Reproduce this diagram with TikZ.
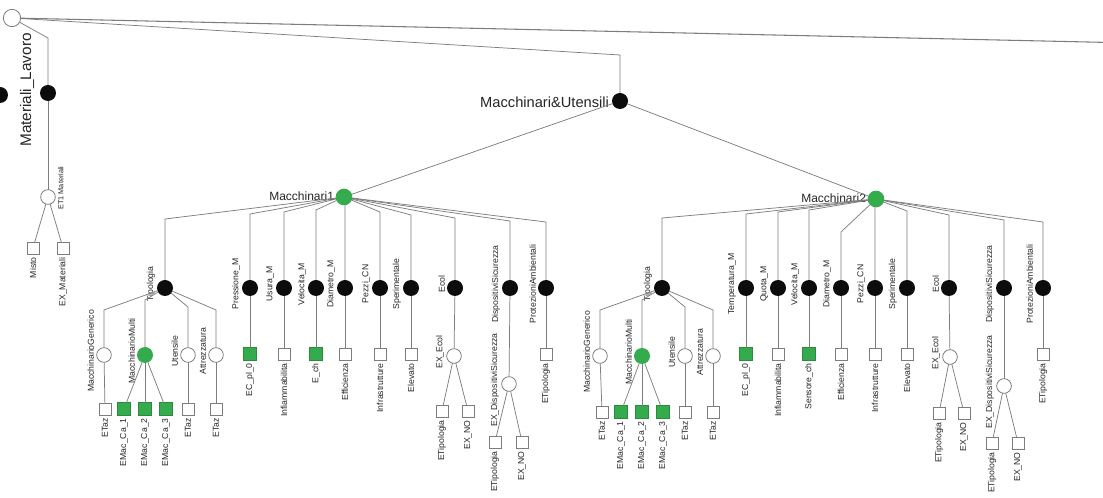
\documentclass[tikz,border=0pt]{standalone}
\usepackage{fontspec}
\setmainfont{Liberation Sans}
\definecolor{leafgreen}{RGB}{52,172,78}
\definecolor{edgegray}{RGB}{125,125,125}
\definecolor{nodeblack}{RGB}{12,12,12}
% label helpers: text rotated, left of a node / hanging below a node
\newcommand\nlab[2]{\node[leftlab] (#1-lab) at ([xshift=-7.5pt,yshift=3pt]#1.center) {#2};}
\newcommand\dlab[2]{\node[downlab] (#1-lab) at ([yshift=-7pt]#1.center) {#2};}
\begin{document}
\begin{tikzpicture}[x=0.75pt,y=-0.75pt,
  every node/.style={inner sep=0pt,outer sep=0pt},
  solid/.style={circle,fill=nodeblack,minimum size=12pt},
  hub/.style={circle,fill=leafgreen,minimum size=12.5pt},
  opencirc/.style={circle,draw=edgegray,fill=white,line width=0.6pt,minimum size=11pt},
  greencirc/.style={circle,fill=leafgreen,minimum size=12pt},
  leaf/.style={rectangle,draw=edgegray,fill=white,line width=0.6pt,minimum size=9pt},
  gleaf/.style={rectangle,draw=leafgreen!80!black,fill=leafgreen,line width=0.5pt,minimum size=9.5pt},
  link/.style={draw=edgegray,line width=0.55pt},
  vlab/.style={font=\fontsize{6.5}{7}\selectfont,rotate=90,text=black!85},
  leftlab/.style={vlab,anchor=south},
  downlab/.style={vlab,anchor=east},
]
\fill[white] (0,0) rectangle (1103,498);
\useasboundingbox (0,0) rectangle (1103,498);

% ---------- top level ----------
\node[opencirc,minimum size=13pt] (root) at (12,18) {};
\node[solid] (edgedot) at (0,95) {};
\coordinate (farright) at (1110,42.5);
\coordinate (mj) at (48,38);
\coordinate (uj) at (620,55);
\draw[link,line width=0.8pt] (root) -- (farright);

% Materiali branch
\node[solid] (mat) at (48,93) {};
\node[font=\fontsize{11.5}{12}\selectfont,rotate=90,text=black!85] (mat-lab) at (27,90) {Materiali\_Lavoro};
\node[opencirc] (matc) at (48,197) {};
\node[vlab,font=\fontsize{5.5}{6}\selectfont,anchor=north] (matc-lab) at (58,188) {ET1 Materiali};
\node[leaf] (mats1) at (33,248) {};
\node[leaf] (mats2) at (63,248) {};
\draw[link] (root) -- (mj) -- (mat);
\draw[link] (mat) -- (matc);
\draw[link] (matc) -- (mats1);
\draw[link] (matc) -- (mats2);
\dlab{mats1}{Misto}
\dlab{mats2}{EX\_Materiali}

% Macchinari & Utensili
\node[solid] (mu) at (620,101) {};
\node[font=\fontsize{11}{12}\selectfont,anchor=east,text=black!85] (mu-lab) at (609,102) {Macchinari\&Utensili};
\draw[link] (root) -- (uj) -- (mu);

\node[hub] (m1) at (344,197) {};
\node[font=\fontsize{9}{10}\selectfont,anchor=east,text=black!85] (m1-lab) at (334,196) {Macchinari1};
\node[hub] (m2) at (876,199) {};
\node[font=\fontsize{9}{10}\selectfont,anchor=east,text=black!85] (m2-lab) at (866,198) {Macchinari2};
\draw[link] (mu) -- (m1);
\draw[link] (mu) -- (m2);

% ---------- Macchinari1 ----------
\foreach \n/\x/\e/\t in {a/165/219/Tipologia, b/250/214/Pressione\_M, c/284/212/Usura\_M,
    d/316/210/Velocita\_M, e/345/206/Diametro\_M, f/380/212/Pezzi\_CN, g/411/215/Sperimentale,
    h/455/218/Ecol, i/510/221/DispositiviSicurezza, j/546/222/ProtezioniAmbientali}{
  \node[solid] (A\n) at (\x,288) {};
  \draw[link] (m1) -- (\x,\e) -- (A\n);
  \nlab{A\n}{\t}
}
\foreach \n/\x/\s/\t in {b/250/gleaf/EC\_pl\_0, c/284/leaf/Infiammabilita, d/316/gleaf/E\_ch,
    e/345/leaf/Efficienza, f/380/leaf/Infrastrutture, g/411/leaf/Elevato, j/546/leaf/ETipologia}{
  \node[\s] (A\n-l) at (\x,354) {};
  \draw[link] (A\n) -- (A\n-l);
  \dlab{A\n-l}{\t}
}
% Ecol
\node[opencirc] (Ah-c) at (454,356) {};
\draw[link] (Ah) -- (Ah-c);
\nlab{Ah-c}{EX\_Ecol}
\node[leaf] (Ah-1) at (442,411) {};
\node[leaf] (Ah-2) at (468,411) {};
\draw[link] (Ah-c) -- (Ah-1);
\draw[link] (Ah-c) -- (Ah-2);
\dlab{Ah-1}{ETipologia}
\dlab{Ah-2}{EX\_NO}
% DispositiviSicurezza
\node[opencirc] (Ai-c) at (509,384) {};
\draw[link] (Ai) -- (Ai-c);
\nlab{Ai-c}{EX\_DispositiviSicurezza}
\node[leaf] (Ai-1) at (495,442) {};
\node[leaf] (Ai-2) at (522,442) {};
\draw[link] (Ai-c) -- (Ai-1);
\draw[link] (Ai-c) -- (Ai-2);
\dlab{Ai-1}{ETipologia}
\dlab{Ai-2}{EX\_NO}
% Tipologia
\foreach \n/\x/\e/\s/\t in {p/104/310/opencirc/MacchinarioGenerico, q/145/300/greencirc/MacchinarioMulti,
    r/188/307/opencirc/Utensile, s/216/310/opencirc/Attrezzatura}{
  \node[\s] (A\n) at (\x,355) {};
  \draw[link] (Aa) -- (\x,\e) -- (A\n);
  \nlab{A\n}{\t}
}
\foreach \n/\p/\x/\s/\t in {p1/p/105/leaf/ETaz, q1/q/124/gleaf/EMac\_Ca\_1, q2/q/145/gleaf/EMac\_Ca\_2,
    q3/q/166/gleaf/EMac\_Ca\_3, r1/r/188/leaf/ETaz, s1/s/216/leaf/ETaz}{
  \node[\s] (A\n) at (\x,409) {};
  \draw[link] (A\p) -- (A\n);
  \dlab{A\n}{\t}
}

% ---------- Macchinari2 ----------
\foreach \n/\x/\e/\t in {a/662/218/Tipologia, b/746/214/Temperatura\_M, c/778/212/Quota\_M,
    d/809/210/Velocita\_M, e/841/232/Diametro\_M, f/875/207/Pezzi\_CN, g/907/211/Sperimentale,
    h/949/215/Ecol, i/1004/220/DispositiviSicurezza, j/1043/222/ProtezioniAmbientali}{
  \node[solid] (B\n) at (\x,288) {};
  \draw[link] (m2) -- (\x,\e) -- (B\n);
  \nlab{B\n}{\t}
}
\foreach \n/\x/\s/\t in {b/746/gleaf/EC\_pl\_0, c/778/leaf/Infiammabilita, d/809/gleaf/Sensore\_ch,
    e/841/leaf/Efficienza, f/875/leaf/Infrastrutture, g/907/leaf/Elevato, j/1043/leaf/ETipologia}{
  \node[\s] (B\n-l) at (\x,354) {};
  \draw[link] (B\n) -- (B\n-l);
  \dlab{B\n-l}{\t}
}
% Ecol
\node[opencirc] (Bh-c) at (950,357) {};
\draw[link] (Bh) -- (Bh-c);
\nlab{Bh-c}{EX\_Ecol}
\node[leaf] (Bh-1) at (939,413) {};
\node[leaf] (Bh-2) at (964,413) {};
\draw[link] (Bh-c) -- (Bh-1);
\draw[link] (Bh-c) -- (Bh-2);
\dlab{Bh-1}{ETipologia}
\dlab{Bh-2}{EX\_NO}
% DispositiviSicurezza
\node[opencirc] (Bi-c) at (1004,386) {};
\draw[link] (Bi) -- (Bi-c);
\nlab{Bi-c}{EX\_DispositiviSicurezza}
\node[leaf] (Bi-1) at (992,443) {};
\node[leaf] (Bi-2) at (1018,443) {};
\draw[link] (Bi-c) -- (Bi-1);
\draw[link] (Bi-c) -- (Bi-2);
\dlab{Bi-1}{ETipologia}
\dlab{Bi-2}{EX\_NO}
% Tipologia
\foreach \n/\x/\e/\s/\t in {p/600/310/opencirc/MacchinarioGenerico, q/642/300/greencirc/MacchinarioMulti,
    r/685/307/opencirc/Utensile, s/713/310/opencirc/Attrezzatura}{
  \node[\s] (B\n) at (\x,356) {};
  \draw[link] (Ba) -- (\x,\e) -- (B\n);
  \nlab{B\n}{\t}
}
\foreach \n/\p/\x/\s/\t in {p1/p/602/leaf/ETaz, q1/q/621/gleaf/EMac\_Ca\_1, q2/q/642/gleaf/EMac\_Ca\_2,
    q3/q/663/gleaf/EMac\_Ca\_3, r1/r/685/leaf/ETaz, s1/s/713/leaf/ETaz}{
  \node[\s] (B\n) at (\x,412) {};
  \draw[link] (B\p) -- (B\n);
  \dlab{B\n}{\t}
}
\end{tikzpicture}
\end{document}
